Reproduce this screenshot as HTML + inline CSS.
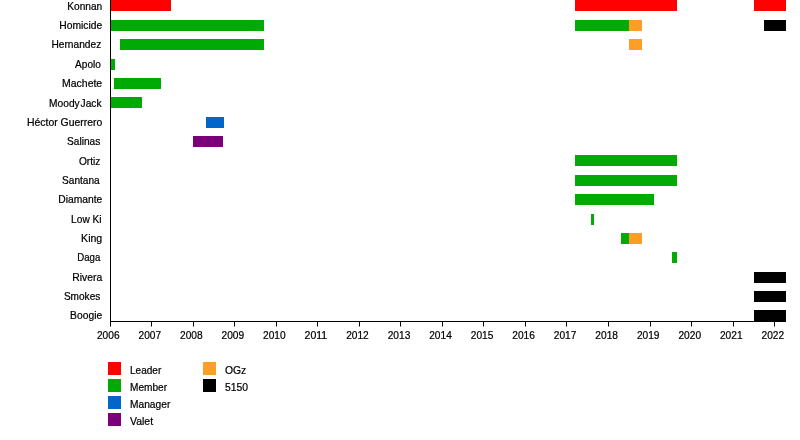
<!DOCTYPE html>
<html><head><meta charset="utf-8"><title>Timeline</title>
<style>
html,body{margin:0;padding:0;background:#fff;}
body{width:800px;height:440px;overflow:hidden;}
svg{display:block;will-change:transform;opacity:0.999;}
text{font-family:"Liberation Sans",sans-serif;font-size:10.67px;fill:#000;stroke:#000;stroke-width:0.22px;}
</style></head><body>
<svg width="800" height="440" viewBox="0 0 800 440">
<rect x="0" y="0" width="800" height="440" fill="#ffffff"/>
<rect x="111" y="0.00" width="60" height="11" fill="#ff0000"/>
<rect x="575" y="0.00" width="102" height="11" fill="#ff0000"/>
<rect x="754" y="0.00" width="32" height="11" fill="#ff0000"/>
<rect x="111" y="20.00" width="153" height="11" fill="#00aa04"/>
<rect x="575" y="20.00" width="54" height="11" fill="#00aa04"/>
<rect x="629" y="20.00" width="13" height="11" fill="#ff9e24"/>
<rect x="764" y="20.00" width="22" height="11" fill="#000000"/>
<rect x="120" y="39.00" width="144" height="11" fill="#00aa04"/>
<rect x="629" y="39.00" width="13" height="11" fill="#ff9e24"/>
<rect x="111" y="59.00" width="4" height="11" fill="#00aa04"/>
<rect x="114" y="78.00" width="47" height="11" fill="#00aa04"/>
<rect x="111" y="97.00" width="31" height="11" fill="#00aa04"/>
<rect x="206" y="117.00" width="18" height="11" fill="#0066cc"/>
<rect x="193" y="136.00" width="30" height="11" fill="#7a007a"/>
<rect x="575" y="155.00" width="102" height="11" fill="#00aa04"/>
<rect x="575" y="175.00" width="102" height="11" fill="#00aa04"/>
<rect x="575" y="194.00" width="79" height="11" fill="#00aa04"/>
<rect x="591" y="214.00" width="3" height="11" fill="#00aa04"/>
<rect x="621" y="233.00" width="8" height="11" fill="#00aa04"/>
<rect x="629" y="233.00" width="13" height="11" fill="#ff9e24"/>
<rect x="672" y="252.00" width="5" height="11" fill="#00aa04"/>
<rect x="754" y="272.00" width="32" height="11" fill="#000000"/>
<rect x="754" y="291.00" width="32" height="11" fill="#000000"/>
<rect x="754" y="310.00" width="32" height="11" fill="#000000"/>
<rect x="110.0" y="0" width="1.0" height="322.0" fill="#000"/>
<rect x="110.0" y="321.0" width="676.0" height="1" fill="#000"/>
<rect x="110" y="321.0" width="1" height="5.5" fill="#000"/>
<text x="96.95" y="338.8" textLength="22.6" lengthAdjust="spacingAndGlyphs">2006</text>
<rect x="151" y="321.0" width="1" height="5.5" fill="#000"/>
<text x="138.49" y="338.8" textLength="22.6" lengthAdjust="spacingAndGlyphs">2007</text>
<rect x="193" y="321.0" width="1" height="5.5" fill="#000"/>
<text x="180.02" y="338.8" textLength="22.6" lengthAdjust="spacingAndGlyphs">2008</text>
<rect x="234" y="321.0" width="1" height="5.5" fill="#000"/>
<text x="221.56" y="338.8" textLength="22.6" lengthAdjust="spacingAndGlyphs">2009</text>
<rect x="276" y="321.0" width="1" height="5.5" fill="#000"/>
<text x="263.09" y="338.8" textLength="22.6" lengthAdjust="spacingAndGlyphs">2010</text>
<rect x="317" y="321.0" width="1" height="5.5" fill="#000"/>
<text x="304.62" y="338.8" textLength="22.6" lengthAdjust="spacingAndGlyphs">2011</text>
<rect x="359" y="321.0" width="1" height="5.5" fill="#000"/>
<text x="346.16" y="338.8" textLength="22.6" lengthAdjust="spacingAndGlyphs">2012</text>
<rect x="400" y="321.0" width="1" height="5.5" fill="#000"/>
<text x="387.69" y="338.8" textLength="22.6" lengthAdjust="spacingAndGlyphs">2013</text>
<rect x="442" y="321.0" width="1" height="5.5" fill="#000"/>
<text x="429.23" y="338.8" textLength="22.6" lengthAdjust="spacingAndGlyphs">2014</text>
<rect x="483" y="321.0" width="1" height="5.5" fill="#000"/>
<text x="470.76" y="338.8" textLength="22.6" lengthAdjust="spacingAndGlyphs">2015</text>
<rect x="525" y="321.0" width="1" height="5.5" fill="#000"/>
<text x="512.30" y="338.8" textLength="22.6" lengthAdjust="spacingAndGlyphs">2016</text>
<rect x="566" y="321.0" width="1" height="5.5" fill="#000"/>
<text x="553.84" y="338.8" textLength="22.6" lengthAdjust="spacingAndGlyphs">2017</text>
<rect x="608" y="321.0" width="1" height="5.5" fill="#000"/>
<text x="595.37" y="338.8" textLength="22.6" lengthAdjust="spacingAndGlyphs">2018</text>
<rect x="650" y="321.0" width="1" height="5.5" fill="#000"/>
<text x="636.90" y="338.8" textLength="22.6" lengthAdjust="spacingAndGlyphs">2019</text>
<rect x="691" y="321.0" width="1" height="5.5" fill="#000"/>
<text x="678.44" y="338.8" textLength="22.6" lengthAdjust="spacingAndGlyphs">2020</text>
<rect x="733" y="321.0" width="1" height="5.5" fill="#000"/>
<text x="719.98" y="338.8" textLength="22.6" lengthAdjust="spacingAndGlyphs">2021</text>
<rect x="774" y="321.0" width="1" height="5.5" fill="#000"/>
<text x="761.51" y="338.8" textLength="22.6" lengthAdjust="spacingAndGlyphs">2022</text>
<text x="67.25" y="9.75" textLength="34.95" lengthAdjust="spacingAndGlyphs">Konnan</text>
<text x="59.25" y="29.10" textLength="42.95" lengthAdjust="spacingAndGlyphs">Homicide</text>
<text x="51.40" y="48.45" textLength="49.90" lengthAdjust="spacingAndGlyphs">Hernandez</text>
<text x="75.10" y="67.80" textLength="25.80" lengthAdjust="spacingAndGlyphs">Apolo</text>
<text x="62.00" y="87.15" textLength="40.20" lengthAdjust="spacingAndGlyphs">Machete</text>
<text x="49.10" y="106.50" textLength="52.45" lengthAdjust="spacingAndGlyphs" style="word-spacing:-2px">Moody Jack</text>
<text x="27.00" y="125.85" textLength="75.20" lengthAdjust="spacingAndGlyphs">Héctor Guerrero</text>
<text x="67.00" y="145.20" textLength="33.30" lengthAdjust="spacingAndGlyphs">Salinas</text>
<text x="78.90" y="164.55" textLength="21.40" lengthAdjust="spacingAndGlyphs">Ortiz</text>
<text x="62.00" y="183.90" textLength="37.70" lengthAdjust="spacingAndGlyphs">Santana</text>
<text x="58.25" y="203.25" textLength="43.95" lengthAdjust="spacingAndGlyphs">Diamante</text>
<text x="71.10" y="222.60" textLength="30.45" lengthAdjust="spacingAndGlyphs">Low Ki</text>
<text x="81.10" y="241.95" textLength="21.10" lengthAdjust="spacingAndGlyphs">King</text>
<text x="77.25" y="261.30" textLength="23.05" lengthAdjust="spacingAndGlyphs">Daga</text>
<text x="72.25" y="280.65" textLength="29.95" lengthAdjust="spacingAndGlyphs">Rivera</text>
<text x="63.90" y="300.00" textLength="36.40" lengthAdjust="spacingAndGlyphs">Smokes</text>
<text x="70.10" y="319.35" textLength="32.10" lengthAdjust="spacingAndGlyphs">Boogie</text>
<rect x="108" y="362" width="13" height="13" fill="#ff0000"/>
<text x="130" y="373.8" textLength="31.3" lengthAdjust="spacingAndGlyphs">Leader</text>
<rect x="108" y="379" width="13" height="13" fill="#00aa04"/>
<text x="130" y="390.8" textLength="37.099999999999994" lengthAdjust="spacingAndGlyphs">Member</text>
<rect x="108" y="396" width="13" height="13" fill="#0066cc"/>
<text x="130" y="407.8" textLength="40.3" lengthAdjust="spacingAndGlyphs">Manager</text>
<rect x="108" y="413" width="13" height="13" fill="#7a007a"/>
<text x="130" y="424.8" textLength="23.1" lengthAdjust="spacingAndGlyphs">Valet</text>
<rect x="203" y="362" width="13" height="13" fill="#ff9e24"/>
<text x="225" y="373.8" textLength="21.3" lengthAdjust="spacingAndGlyphs">OGz</text>
<rect x="203" y="379" width="13" height="13" fill="#000000"/>
<text x="225" y="390.8" textLength="23.1" lengthAdjust="spacingAndGlyphs">5150</text>
</svg></body></html>
